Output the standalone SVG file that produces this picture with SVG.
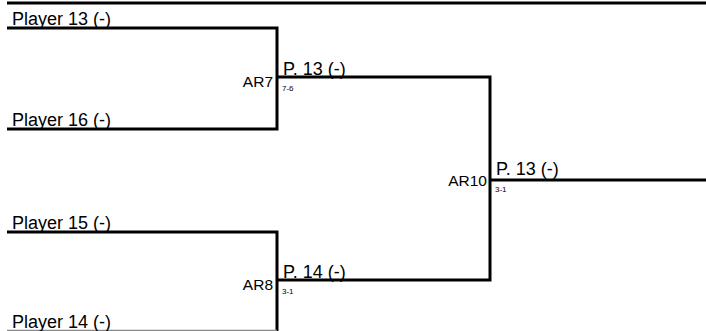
<svg xmlns="http://www.w3.org/2000/svg" width="706" height="331" viewBox="0 0 706 331">
<style>
.l{stroke:#000;stroke-width:3;fill:none}
.t{font-family:"Liberation Sans",Arial,sans-serif;font-size:18px;fill:#000}
.r{font-family:"Liberation Sans",Arial,sans-serif;font-size:15.5px;fill:#000;text-anchor:end}
.s{font-family:"Liberation Sans",Arial,sans-serif;font-size:8px;fill:#000}
</style>
<rect width="706" height="331" fill="#fff"/>
<g id="connectors">
<path class="l" d="M7 3H706"/>
<path class="l" d="M7 28H277V129H7"/>
<path class="l" d="M277 77H490V280H277"/>
<path class="l" d="M7 232H277V331"/>
<path d="M7 330.5H277" stroke="#888" stroke-width="1.5" fill="none"/>
<path class="l" d="M490 180H706"/>
</g>
<g id="p13"><text class="t" x="12" y="25">Player 13 (-)</text></g>
<g id="p16"><text class="t" x="12" y="126">Player 16 (-)</text></g>
<g id="p15"><text class="t" x="12" y="229">Player 15 (-)</text></g>
<g id="p14"><text class="t" x="12" y="328">Player 14 (-)</text></g>
<g id="ar7"><text class="r" x="273" y="87">AR7</text><text class="t" x="283" y="75">P. 13 (-)</text><text class="s" x="282" y="91">7-6</text></g>
<g id="ar8"><text class="r" x="273" y="290">AR8</text><text class="t" x="283" y="278">P. 14 (-)</text><text class="s" x="282" y="294">3-1</text></g>
<g id="ar10"><text class="r" x="487" y="186">AR10</text><text class="t" x="496" y="175">P. 13 (-)</text><text class="s" x="495" y="192">3-1</text></g>
</svg>
